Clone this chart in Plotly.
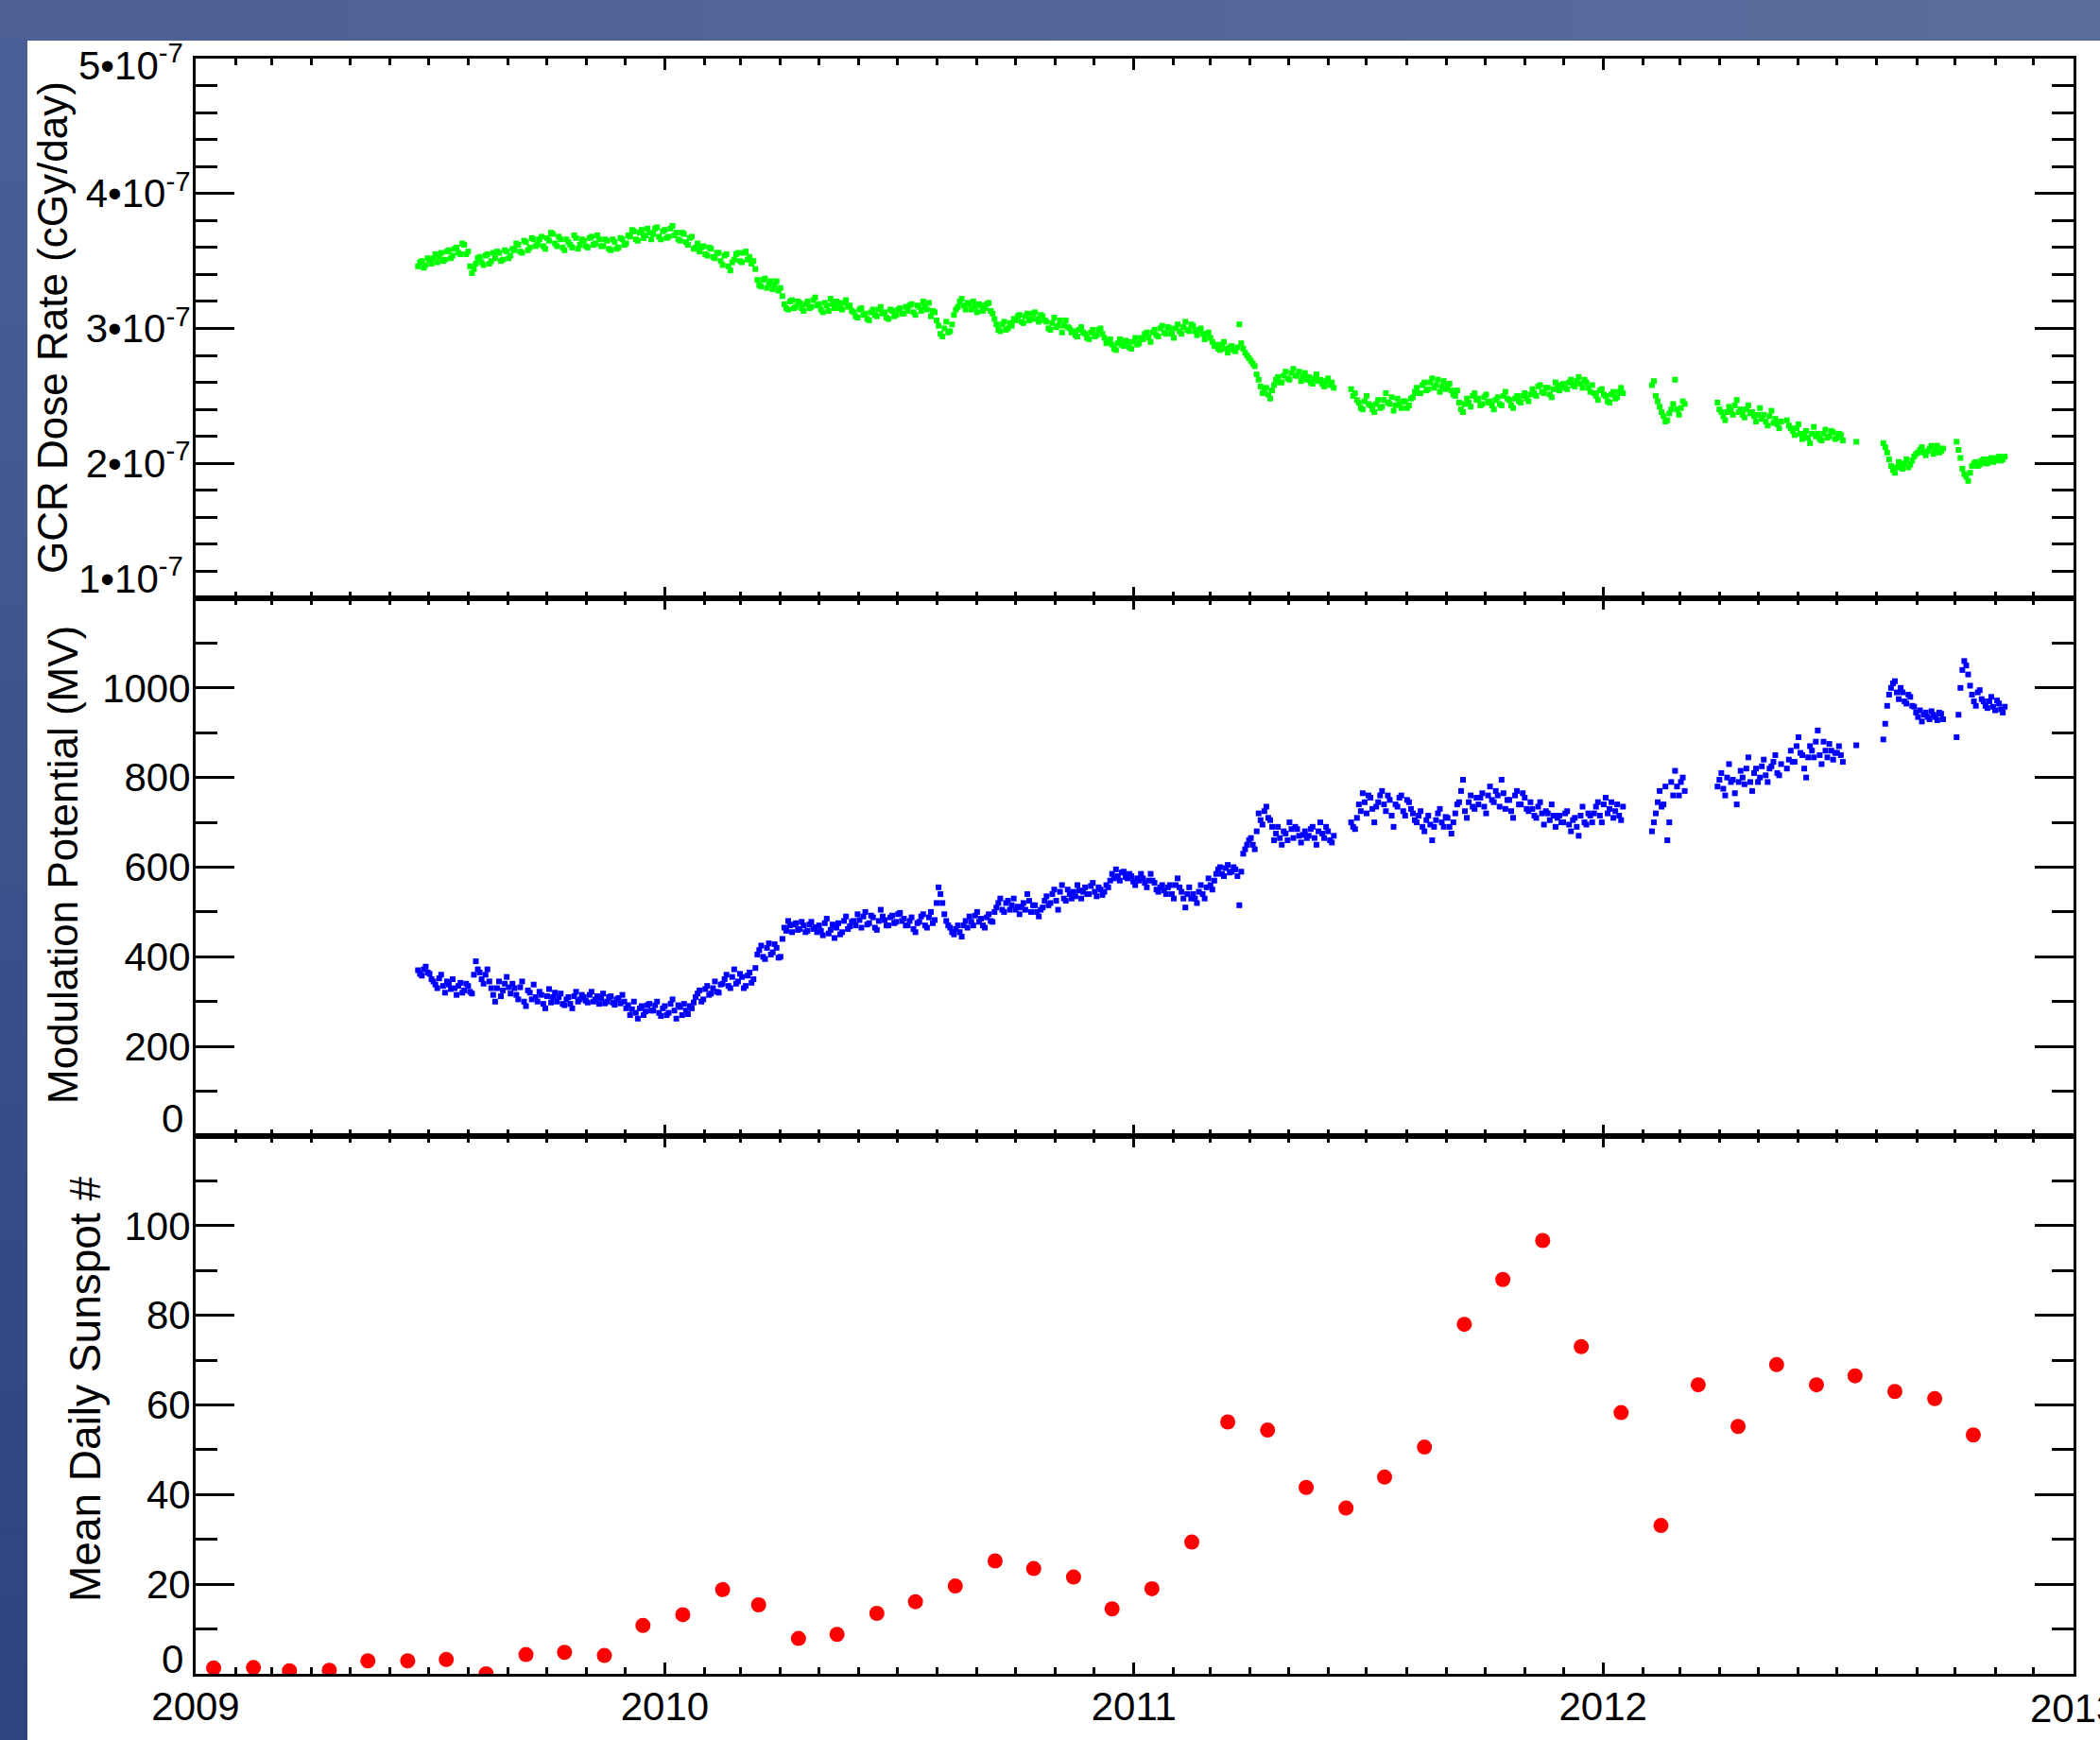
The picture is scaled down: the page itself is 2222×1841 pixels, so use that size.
import pandas as pd
import plotly.graph_objects as go

# ---------------- data ----------------
# GCR dose rate, in units of 1e-9 cGy/day (hundredths of 1e-7), readings every 3 days from 2009-06-23
dose_values = [
    346, 350, 347, 351, 352, 349, 356, 351, 358, 354, 360, 355, 362, 357, 341, 348,
    353, 347, 355, 350, 352, 356, 351, 357, 354, 358, 362, 356, 364, 360, 366,
    362, 368, 359, 365, 370, 361, 366, 358, 364, 360, 367, 362, 365, 360, 368, 363, 366,
    361, 365, 358, 364, 360, 366, 363, 368, 372, 365, 373, 369, 371,
    370, 375, 366, 373, 368, 376, 371, 365, 370, 362, 368, 360, 357, 361, 354, 359,
    352, 356, 347, 355, 343, 351, 356, 349, 357, 353, 350,
    336, 331, 337, 333, 329, 335, 330, 318, 314, 321, 316, 319,
    313, 320, 316, 323, 318, 312, 317, 322, 315, 319, 314, 321, 317,
    312, 308, 315, 311, 306, 314, 309, 316, 312, 307, 313, 310, 315, 311,
    313, 318, 310, 316, 320, 314, 309, 312, 302, 294, 305, 298,
    310, 316, 322, 314, 318, 320, 312, 317, 315, 319, 311, 303, 298, 305, 300, 302,
    306, 310, 304, 311, 307, 312, 305, 309, 305, 299, 308, 302, 297, 306, 300,
    298, 294, 301, 296, 292, 299, 295, 300, 293, 290, 288, 284, 292, 287, 290, 285, 293, 289,
    292, 297, 290, 299, 294, 302, 296, 300, 293, 303, 296, 305, 298,
    302, 295, 300, 292, 297, 290, 288, 284, 290, 282, 287, 283, 303,
    285, 280, 276, 272, 262, 252, 256, 248,
    258, 264, 260, 268, 262, 270, 265, 261, 267, 264, 259, 266, 262, 257, 263, 260,
    None, None, None, None,
    255, 252, 245, 240, 250, 243, 238, 247, 242, 252, 244, 239, 248, 241, 246, 243, 249,
    256, 252, 260, 255, 263, 258, 253, 261, 257, 254, 250, 245, 238, 248, 242, 252,
    248, 244, 251, 246, 240, 249, 243, 253, 247, 241, 250, 245, 252, 246,
    255, 250, 258, 252, 256, 249, 260, 254, 259, 255, 262, 257, 264, 256, 260, 253,
    252, 247, 255, 250, 245, 253, 249, 256,
    None, None, None, None, None, None, None,
    258, 250, 242, 235, 232, 240, 262, 236, 246,
    None, None, None, None, None, None, None, None,
    245, 238, 232, 242, 236, 247, 240, 234, 243, 238, 231, 241, 236, 228, 239, 233, 226,
    None,
    232, 226, 221, 229, 218, 224, 215, 227, 222, 217, 225, 220, 223, 219, 221,
    None, None, None, 216, None, None, None, None, None, None,
    215, 208, 198, 193, 201, 196, 203, 199, 205, 208, 212, 206, 211, 207, 213, 209,
    None, None, None,
    216, 204, 192, 187, 198, 201, 199, 203, 200, 204, 202, 205, 203,
]

# in-between readings (1.5 days after each of the above)
dose_values_mid = [
    349, 345, 352, 348, 355, 353, 350, 357, 352, 359, 356, 363, 355, 346, 344, 352,
    349, 354, 348, 356, 357, 350, 358, 352, 359,
    363, 357, 365, 358, 367, 361,
    366, 361, 367, 371, 363, 368, 360, 366, 362, 369, 359, 366, 361, 367, 362, 369, 361,
    366, 359, 366, 359, 367, 362, 369, 373, 366, 371, 367, 374, 366,
    374, 368, 372, 367, 374, 369, 366, 371, 364, 367, 359, 363, 360, 355, 360, 353,
    356, 350, 354, 346, 349, 355, 350, 356, 351, 348, 344,
    332, 336, 330, 335, 332, 328, 324, 315, 320, 315, 320, 315,
    318, 315, 321, 317, 314, 319, 313, 318, 320, 315, 319, 316, 313,
    309, 314, 310, 307, 312, 310, 314, 311, 308, 314, 309, 314, 311, 316,
    317, 312, 317, 313, 316, 319, 313, 306, 296, 300, 297, 303,
    314, 320, 317, 319, 314, 316, 318, 313, 318, 313, 307, 299, 303, 299, 304, 307,
    309, 305, 309, 306, 311, 307, 310, 306, 300, 304, 301, 306, 302, 301, 297,
    295, 299, 297, 293, 297, 294, 299, 296, 289, 292, 285, 289, 288, 291, 286, 290, 288, 293,
    296, 293, 297, 295, 300, 297, 301, 296, 300, 298, 301, 299, 303,
    298, 299, 296, 296, 293, 287, 285, 288, 285, 286, 284, 286, 289,
    282, 278, 274, 266, 257, 255, 251, 254,
    262, 260, 265, 263, 267, 265, 268, 264, 262, 260, 263, 261, 259, 261, 258, 256,
    None, None, None, None,
    250, 247, 241, 246, 244, 240, 244, 241, 247, 245, 249, 243, 244, 246, 241, 248, 253,
    252, 258, 254, 260, 256, 262, 257, 255, 259, 251, 254, 240, 244, 245, 250, 247,
    243, 249, 245, 243, 247, 244, 250, 248, 243, 248, 246, 250, 248, 251,
    252, 257, 253, 256, 251, 255, 257, 258, 256, 260, 258, 261, 259, 262, 256, 258,
    250, 254, 251, 246, 251, 248, 253, 252,
    None, None, None, None, None, None, None,
    261, 246, 238, 231, 237, 244, 240, 241, 244,
    None, None, None, None, None, None, None, None,
    240, 235, 238, 239, 243, 238, 236, 240, 237, 235, 236, 233, 231, 235, 230, 229, 231,
    None,
    228, 224, 226, 222, 221, 219, 222, 220, 218, 222, 219, 224, 218, 222, 217,
    None, None, None, None, None, None, None, None, None, None,
    212, 203, 195, 197, 198, 200, 197, 202, 207, 210, 208, 209, 213, 210, 208, 211,
    None, None, None,
    210, 196, 190, 193, 200, 198, 202, 200, 203, 201, 204, 202, 205,
]

# Modulation potential (MV), same 3-day cadence from 2009-06-23
modpot_values = [
    370, 358, 378, 362, 345, 330, 360, 320, 338, 350, 315, 342, 325, 335, 318, 390,
    365, 340, 372, 330, 300, 345, 325, 355, 318,
    330, 305, 345, 290, 320, 338, 300, 315, 285, 328, 310,
    300, 318, 292, 310, 285, 322, 305, 310, 298, 322, 305, 295, 318, 300, 312, 293, 308, 315,
    285, 270, 300, 262, 290, 278, 295, 280, 300, 268, 290, 275, 305, 262, 288, 295, 272, 285,
    310, 325, 305, 335, 318, 345, 320, 340, 360, 330, 372, 345, 355, 335, 365, 350,
    405, 425, 395, 430, 410, 420, 400, 465, 480, 455, 475, 462, 470, 458, 478, 466,
    470, 448, 485, 460, 442, 475, 455, 490, 468,
    480, 495, 465, 500, 475, 488, 460, 505, 482, 470, 492, 478, 498, 485,
    470, 488, 455, 478, 495, 465, 500, 482, 555, 520, 480, 465,
    450, 470, 445, 480, 490, 470, 500, 485, 465, 495, 478, 510, 530, 500, 525, 515,
    505, 495, 520, 540, 500, 515, 490, 510, 535, 520, 550, 505, 560, 525, 540,
    545, 560, 530, 555, 540, 565, 535, 550, 545, 555, 585, 595, 570, 590, 575, 580, 560, 570,
    575, 555, 585, 565, 545, 560, 540, 560, 530, 575, 545, 510, 555,
    540, 520, 560, 530, 575, 550, 585, 600, 580, 605, 590, 595, 515,
    630, 650, 665, 640, 720, 695, 735, 705,
    660, 690, 650, 675, 700, 665, 685, 655, 680, 670, 690, 650, 700, 665, 680, 655,
    None, None, None, None,
    700, 685, 740, 765, 720, 755, 700, 745, 770, 725, 750, 690, 735, 760, 715, 745, 720,
    700, 725, 680, 715, 660, 705, 730, 690, 710, 675, 720, 745, 795, 710, 760, 730,
    740, 765, 720, 780, 745, 760, 795, 730, 750, 710, 770, 740, 755, 725,
    730, 710, 745, 695, 720, 740, 690, 715, 700, 725, 680, 710, 670, 735, 695, 715,
    720, 745, 700, 755, 730, 710, 740, 705,
    None, None, None, None, None, None, None,
    680, 720, 770, 740, 660, 790, 815, 760, 800,
    None, None, None, None, None, None, None, None,
    780, 810, 760, 830, 795, 740, 815, 785, 845, 770, 820, 800, 840, 790, 825, 850, 805,
    None,
    820, 860, 835, 890, 850, 800, 870, 845, 905, 830, 860, 875, 840, 855, 850,
    None, None, None, 872, None, None, None, None, None, None,
    885, 960, 1000, 1015, 975, 990, 965, 980, 958, 935, 925, 945, 930, 940, 928, 942,
    None, None, None,
    890, 1000, 1060, 1030, 985, 960, 995, 970, 955, 980, 950, 965, 945,
]

modpot_values_mid = [
    362, 372, 365, 350, 338, 352, 335, 345, 328, 330, 335, 320, 340, 322, 360, 372,
    350, 360, 345, 315, 330, 312, 340, 332, 340,
    315, 332, 300, 325, 305, 310, 322, 295, 312, 298, 320,
    310, 295, 305, 295, 312, 300, 315,
    302, 315, 300, 312, 308, 296, 310, 298, 305, 296, 300,
    292, 283, 275, 285, 270, 292, 280,
    292, 275, 285, 270, 295, 280, 292, 270, 280, 290, 298,
    318, 300, 328, 315, 330, 322, 338,
    350, 335, 355, 340, 362, 330, 358, 342, 375,
    415, 400, 420, 405, 428, 398, 440,
    458, 470, 472, 460, 478, 455, 472, 462, 455,
    458, 475, 452, 472, 465, 450, 480, 462, 478,
    470, 482, 490, 472, 492, 465, 480, 490, 470, 488, 475, 495, 480, 470,
    480, 462, 475, 490, 470, 488, 475, 520, 540, 495, 470, 455,
    462, 455, 470, 465, 478, 492, 478, 470, 488, 480, 500, 520, 505, 520, 505, 530,
    512, 510, 505, 525, 515, 500, 505, 525, 515, 540, 525, 545, 530, 550, 530,
    535, 548, 545, 540, 558, 545, 555, 538, 560, 570, 575, 580, 588, 578, 585, 568, 575, 585,
    565, 570, 570, 550, 555, 548, 555, 540, 560, 555, 530, 540, 530,
    530, 545, 540, 555, 560, 570, 595, 585, 598, 588, 600, 580, 590,
    640, 660, 650, 680, 705, 725, 710, 690,
    675, 665, 680, 660, 685, 690, 670, 672, 665, 685, 665, 680, 675, 690, 660, 670,
    None, None, None, None,
    690, 710, 725, 745, 760, 730, 735, 760, 740, 760, 715, 740, 755, 725, 750, 730, 705,
    715, 690, 705, 695, 690, 720, 700, 712, 690, 700, 740, 770, 725, 745, 735, 755,
    755, 735, 760, 750, 770, 735, 765, 750, 725, 760, 740, 765, 730, 745,
    715, 735, 720, 725, 705, 715, 710, 700, 720, 695, 705, 690, 715, 700, 720, 700,
    735, 715, 740, 720, 745, 725, 715, 735,
    None, None, None, None, None, None, None,
    700, 745, 735, 780, 700, 760, 780, 790, 770,
    None, None, None, None, None, None, None, None,
    795, 775, 800, 790, 765, 790, 800, 820, 790, 810, 790, 825, 805, 820, 835, 810, 830,
    None,
    840, 835, 870, 855, 820, 845, 860, 880, 850, 880, 845, 860, 855, 870, 835,
    None, None, None, None, None, None, None, None, None, None,
    920, 985, 1010, 990, 1000, 970, 985, 960, 945, 950, 940, 935, 948, 935, 945, 930,
    None, None, None,
    940, 1040, 1050, 1005, 970, 990, 975, 960, 970, 958, 972, 952, 958,
]

# Mean daily sunspot number, monthly, Jan 2009 - Oct 2012
sunspot_values = [
    1.3, 1.4, 0.7, 0.8, 2.9, 2.9, 3.2, 0.0, 4.3, 4.8, 4.1, 10.8,
    13.2, 18.8, 15.4, 7.9, 8.8, 13.5, 16.1, 19.6, 25.2, 23.5, 21.6, 14.5,
    19.0, 29.4, 56.2, 54.4, 41.6, 37.0, 43.9, 50.6, 78.0, 88.0, 96.7, 73.0,
    58.3, 33.1, 64.5, 55.2, 69.0, 64.5, 66.5, 63.0, 61.4, 53.3,
]

series_start = "2009-06-23"
cadence_days = 3.0
mid_offset_days = 1.5
x_range = ["2009-01-01", "2013-01-01"]


def reading_dates(n, offset):
    return list(pd.Timestamp(series_start)
                + pd.to_timedelta([cadence_days * i + offset for i in range(n)], unit="D"))


dose_x = reading_dates(len(dose_values), 0) + reading_dates(len(dose_values_mid), mid_offset_days)
dose_y = [None if v is None else v * 1e-9 for v in dose_values + dose_values_mid]
mod_x = reading_dates(len(modpot_values), 0) + reading_dates(len(modpot_values_mid), mid_offset_days)
mod_y = modpot_values + modpot_values_mid
sunspot_dates = [pd.Timestamp(2009 + i // 12, i % 12 + 1, 15) for i in range(len(sunspot_values))]

# ---------------- layout geometry ----------------
W, H = 2222, 1841
ML, MR, MT, MB = 207, 28, 62, 70
PW = W - ML - MR
PH = H - MT - MB


def fx(p):
    return (p - ML) / PW


def fy(p):
    return (H - MB - p) / PH


b12 = fy(633)
b23 = fy(1202)

TICKFONT = dict(family="Liberation Sans, Arial", size=42, color="black")

fig = go.Figure()
fig.add_trace(go.Scatter(x=dose_x, y=dose_y, mode="markers", xaxis="x", yaxis="y",
                         marker=dict(symbol="square", size=6, color="#00ff00", line=dict(width=0)),
                         name="GCR Dose Rate"))
fig.add_trace(go.Scatter(x=mod_x, y=mod_y, mode="markers", xaxis="x2", yaxis="y2",
                         marker=dict(symbol="square", size=6, color="#0000ff", line=dict(width=0)),
                         name="Modulation Potential"))
fig.add_trace(go.Scatter(x=sunspot_dates, y=sunspot_values, mode="markers", xaxis="x3", yaxis="y3",
                         marker=dict(symbol="circle", size=16, color="#ff0000", line=dict(width=0)),
                         name="Sunspot"))

xcommon = dict(type="date", range=x_range, showline=True, linecolor="black",
               linewidth=3, mirror="ticks", ticks="inside", ticklen=12, tickwidth=3, tickcolor="black",
               tickmode="linear", tick0="2009-01-01", dtick="M12", tickformat="%Y",
               minor=dict(ticks="inside", ticklen=7, tickwidth=3, tickcolor="black", dtick="M1",
                          tick0="2009-01-01"),
               showgrid=False, zeroline=False, tickfont=TICKFONT, ticklabelstandoff=-4,
               automargin=False)

ycommon = dict(showline=True, linecolor="black", linewidth=3, mirror="ticks", ticks="inside",
               ticklen=41, tickwidth=3, tickcolor="black", showgrid=False, zeroline=False,
               tickfont=TICKFONT, ticklabelstandoff=-6, automargin=False)

fig.update_layout(
    width=W, height=H, autosize=False,
    margin=dict(l=ML, r=MR, t=MT, b=MB, pad=0, autoexpand=False),
    paper_bgcolor="#4f6497", plot_bgcolor="white", showlegend=False,
    xaxis=dict(xcommon, anchor="y", showticklabels=False, matches="x3"),
    xaxis2=dict(xcommon, anchor="y2", showticklabels=False, matches="x3"),
    xaxis3=dict(xcommon, anchor="y3", showticklabels=True),
    yaxis=dict(ycommon, domain=[b12, 1], range=[1e-7, 5e-7], tickmode="array",
               tickvals=[1e-7, 2e-7, 3e-7, 4e-7, 5e-7],
               ticktext=["", "2•10<sup>-7</sup>", "3•10<sup>-7</sup>", "4•10<sup>-7</sup>", ""],
               minor=dict(ticks="inside", ticklen=23, tickwidth=3, tickcolor="black",
                          tickmode="linear", tick0=0, dtick=0.2e-7)),
    yaxis2=dict(ycommon, domain=[b23, b12], range=[0, 1200], tickmode="array",
                tickvals=[0, 200, 400, 600, 800, 1000, 1200],
                ticktext=["", "200", "400", "600", "800", "1000", ""],
                minor=dict(ticks="inside", ticklen=23, tickwidth=3, tickcolor="black",
                           tickmode="linear", tick0=0, dtick=100)),
    yaxis3=dict(ycommon, domain=[0, b23], range=[0, 120], tickmode="array",
                tickvals=[0, 20, 40, 60, 80, 100, 120],
                ticktext=["", "20", "40", "60", "80", "100", ""],
                minor=dict(ticks="inside", ticklen=23, tickwidth=3, tickcolor="black",
                           tickmode="linear", tick0=0, dtick=10)),
)

# edge tick labels, nudged inside the panels as in the reference
edge_labels = [
    ("y", 5e-7, "5•10<sup>-7</sup>", -4),
    ("y", 1e-7, "1•10<sup>-7</sup>", 24),
    ("y2", 0, "0", 19),
    ("y3", 0, "0", 16),
]
for yref, yv, txt, ysh in edge_labels:
    fig.add_annotation(xref="paper", yref=yref, x=0, y=yv, text=txt, showarrow=False,
                       xanchor="right", yanchor="middle", xshift=-11, yshift=ysh, font=TICKFONT)

# last year label, which runs off the right edge of the page (plotly drops that tick label)
fig.add_annotation(xref="x3", yref="paper", x=x_range[1], y=0, text="2013", showarrow=False,
                   xanchor="center", yanchor="middle", yshift=-36, font=TICKFONT)

# vertical axis titles
axis_titles = [
    ("GCR Dose Rate (cGy/day)", 55, 347, 44),
    ("Modulation Potential (MV)", 66, 915, 44),
    ("Mean Daily Sunspot #", 90, 1470, 46),
]
for txt, px, py, fs in axis_titles:
    fig.add_annotation(xref="paper", yref="paper", x=fx(px), y=fy(py), text=txt, textangle=-90,
                       showarrow=False, xanchor="center", yanchor="middle",
                       font=dict(family="Liberation Sans, Arial", size=fs, color="black"))

# white page behind the plot, and the blue frame gradient
shapes = [dict(type="rect", xref="paper", yref="paper", x0=fx(29), x1=fx(W + 5), y0=fy(H + 5), y1=fy(43),
               fillcolor="white", line=dict(width=0), layer="below")]


def mix(c1, c2, t):
    a = [int(c1[i:i + 2], 16) for i in (1, 3, 5)]
    b = [int(c2[i:i + 2], 16) for i in (1, 3, 5)]
    return "#%02x%02x%02x" % tuple(round(a[k] + (b[k] - a[k]) * t) for k in range(3))


n = 24
for i in range(n):
    y0 = 43 + (H - 43) * i / n
    y1 = 43 + (H - 43) * (i + 1) / n + 1
    shapes.append(dict(type="rect", xref="paper", yref="paper", x0=fx(0), x1=fx(29), y0=fy(y1), y1=fy(y0),
                       fillcolor=mix("#4a6095", "#2d427f", (i + 0.5) / n), line=dict(width=0), layer="below"))
m = 12
for i in range(m):
    x0 = W * i / m
    x1 = W * (i + 1) / m + 1
    shapes.append(dict(type="rect", xref="paper", yref="paper", x0=fx(x0), x1=fx(x1), y0=fy(43), y1=fy(0),
                       fillcolor=mix("#4c6196", "#5a6c9c", (i + 0.5) / m), line=dict(width=0), layer="below"))
fig.update_layout(shapes=shapes)

fig.write_html("out.html")
